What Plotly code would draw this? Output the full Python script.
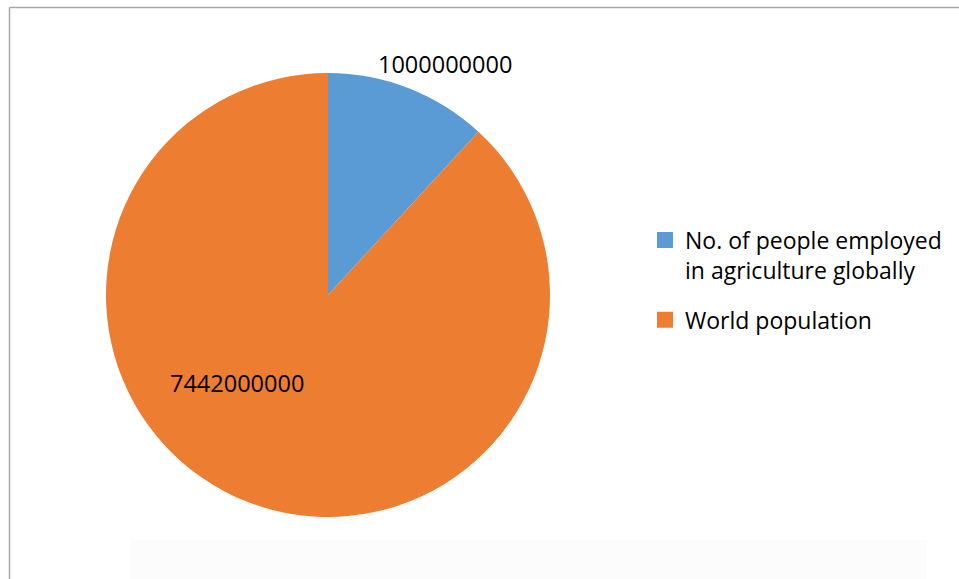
import plotly.graph_objects as go

labels = ["No. of people employed<br>in agriculture globally", "World population"]
values = [1000000000, 7442000000]
colors = ["#5B9BD5", "#ED7D31"]

W, H = 959, 579
font_family = "'Open Sans', Lato, sans-serif"

fig = go.Figure(go.Pie(
    labels=labels,
    values=values,
    marker=dict(colors=colors, line=dict(width=0)),
    sort=False,
    direction="clockwise",
    rotation=0,
    textinfo="none",
    hoverinfo="label+value",
    showlegend=False,
    domain=dict(x=[106 / W, 550 / W], y=[62 / H, 506 / H]),
))

# legend entries (one group per category, so the gap between items matches)
for i, (lab, col) in enumerate(zip(labels, colors)):
    fig.add_trace(go.Scatter(
        x=[None], y=[None], mode="markers", name=lab,
        marker=dict(symbol="square", size=16, color=col),
        legendgroup=f"g{i}", showlegend=True, hoverinfo="skip",
    ))

# data labels
fig.add_annotation(x=445 / W, y=1 - 64 / H, xref="paper", yref="paper",
                   xanchor="center", yanchor="middle",
                   text=str(values[0]), showarrow=False,
                   font=dict(size=23.5, color="#000000", family=font_family))
fig.add_annotation(x=237 / W, y=1 - 383 / H, xref="paper", yref="paper",
                   xanchor="center", yanchor="middle",
                   text=str(values[1]), showarrow=False,
                   font=dict(size=23.5, color="#000000", family=font_family))

# chart border
fig.add_shape(type="line", xref="paper", yref="paper", x0=9.5 / W, x1=1.0,
              y0=1 - 7.5 / H, y1=1 - 7.5 / H, line=dict(color="#A6A6A6", width=1.5))
fig.add_shape(type="line", xref="paper", yref="paper", x0=9.5 / W, x1=9.5 / W,
              y0=0, y1=1 - 7.5 / H, line=dict(color="#A6A6A6", width=1.5))
# faint watermark panel
fig.add_shape(type="rect", xref="paper", yref="paper", x0=131 / W, x1=927 / W,
              y0=0, y1=1 - 540 / H, line=dict(width=0), fillcolor="#FCFCFC", layer="below")

fig.update_layout(
    width=W, height=H,
    margin=dict(l=0, r=0, t=0, b=0),
    paper_bgcolor="white",
    plot_bgcolor="rgba(0,0,0,0)",
    xaxis=dict(visible=False),
    yaxis=dict(visible=False),
    font=dict(family=font_family, size=23, color="#000000"),
    legend=dict(x=645 / W, y=1 - 218.5 / H, xanchor="left", yanchor="top",
                valign="top", tracegroupgap=17, itemsizing="trace",
                bgcolor="rgba(0,0,0,0)",
                font=dict(size=23, family=font_family)),
)

fig.write_html("out.html", post_script="document.body.style.margin='0px';",
               config={"displayModeBar": False})
